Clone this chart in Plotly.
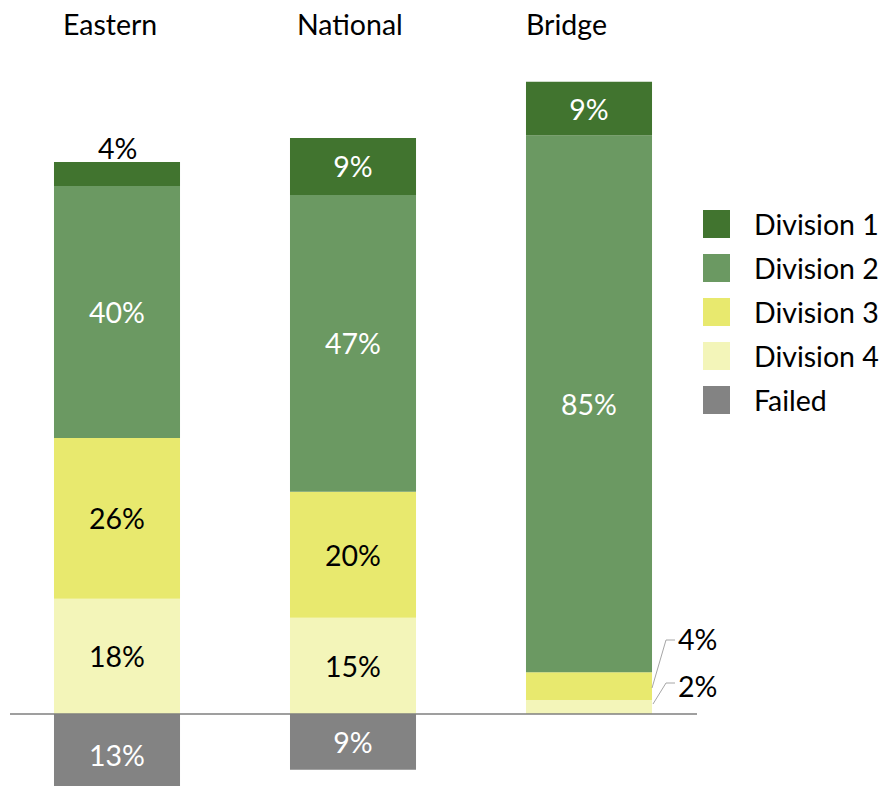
import plotly.graph_objects as go

# ---- data ----
schools = ["Eastern", "National", "Bridge"]
division1 = [3.8, 9.0, 8.5]
division2 = [39.8, 46.9, 84.8]
division3 = [25.4, 19.9, 4.4]
division4 = [18.2, 15.2, 2.2]
failed = [-13.0, -8.8, None]

labels_div1 = ["4%", "9%", "9%"]
labels_div2 = ["40%", "47%", "85%"]
labels_div3 = ["26%", "20%", "4%"]
labels_div4 = ["18%", "15%", "2%"]
labels_failed = ["13%", "9%", ""]

series_names = ["Division 1", "Division 2", "Division 3", "Division 4", "Failed"]
colors = {"Division 1": "#41742f", "Division 2": "#6b9962", "Division 3": "#e8e96e",
          "Division 4": "#f3f5b9", "Failed": "#838383"}

FONT = "Lato, 'Open Sans', 'Liberation Sans', sans-serif"
FS = 28.5

W, H = 881, 786
L, R = 10, 697  # plot area pixel extents
XR = [-0.4534, 2.4576]
YR = [-11.37, 112.8]

def px_x(p):  # p: reference image pixel
    return XR[0] + (p - L) / (R - L) * (XR[1] - XR[0])

def px_y(p):
    return YR[1] - p / H * (YR[1] - YR[0])

x = [0, 1, 2]
bw = 0.534

def inside_text(labels, hide):
    return [("" if i in hide else t) for i, t in enumerate(labels)]

fig = go.Figure()
traces = [
    ("Division 4", division4, inside_text(labels_div4, {2}), "black"),
    ("Division 3", division3, inside_text(labels_div3, {2}), "black"),
    ("Division 2", division2, inside_text(labels_div2, set()), "white"),
    ("Division 1", division1, inside_text(labels_div1, {0}), "white"),
    ("Failed", failed, labels_failed, "white"),
]
for name, vals, txt, tc in traces:
    fig.add_trace(go.Bar(
        x=x, y=vals, name=name, width=bw,
        marker=dict(color=colors[name], line=dict(width=0)),
        text=txt, textposition="inside", insidetextanchor="middle",
        textangle=0, constraintext="none",
        textfont=dict(family=FONT, size=FS, color=tc),
        showlegend=False, hoverinfo="skip",
    ))

shapes = []
# baseline
shapes.append(dict(type="line", xref="x", yref="y", x0=XR[0], x1=XR[1], y0=0, y1=0,
                   line=dict(color="#7f7f7f", width=1.5), layer="above"))
# leader lines for Bridge small segments
for (sx, sy), (ex, ey), (hx, hy) in [
    ((652, 688), (666, 640), (675, 640)),
    ((653, 704), (666, 683), (675, 683)),
]:
    shapes.append(dict(type="path",
                       path=f"M {px_x(sx)},{px_y(sy)} L {px_x(ex)},{px_y(ey)} L {px_x(hx)},{px_y(hy)}",
                       xref="x", yref="y", line=dict(color="#a6a6a6", width=1)))

annotations = []
# category labels
for i, (name, shift) in enumerate(zip(schools, [-7, -3, -23])):
    annotations.append(dict(x=i, y=px_y(24), xref="x", yref="y", text=name, showarrow=False,
                            xshift=shift, font=dict(family=FONT, size=FS, color="black"),
                            xanchor="center", yanchor="middle"))
# outside labels
annotations.append(dict(x=0, y=px_y(148), xref="x", yref="y", text=labels_div1[0], showarrow=False,
                        font=dict(family=FONT, size=FS, color="black"), yanchor="middle"))
annotations.append(dict(x=px_x(676), y=px_y(639), xref="x", yref="y", text=labels_div3[2], showarrow=False,
                        font=dict(family=FONT, size=FS, color="black"), xanchor="left", yanchor="middle"))
annotations.append(dict(x=px_x(676), y=px_y(686), xref="x", yref="y", text=labels_div4[2], showarrow=False,
                        font=dict(family=FONT, size=FS, color="black"), xanchor="left", yanchor="middle"))

# legend (drawn manually)
def paper_x(p):
    return (p - L) / (R - L)

def paper_y(p):
    return 1 - p / H

for k, name in enumerate(series_names):
    cy = 224 + 44 * k
    shapes.append(dict(type="rect", xref="paper", yref="paper",
                       x0=paper_x(703), x1=paper_x(730), y0=paper_y(cy - 14), y1=paper_y(cy + 14),
                       fillcolor=colors[name], line=dict(width=0)))
    annotations.append(dict(x=paper_x(752), y=paper_y(cy), xref="paper", yref="paper", text=name,
                            showarrow=False, xanchor="left", yanchor="middle",
                            font=dict(family=FONT, size=FS, color="black")))

fig.update_layout(
    width=W, height=H,
    margin=dict(l=L, r=W - R, t=0, b=0),
    barmode="relative",
    plot_bgcolor="white", paper_bgcolor="white",
    xaxis=dict(range=XR, visible=False, fixedrange=True),
    yaxis=dict(range=YR, visible=False, zeroline=False, fixedrange=True),
    shapes=shapes, annotations=annotations,
    showlegend=False,
)

fig.write_html("out.html",
               config={"displayModeBar": False},
               post_script="document.body.style.margin='0';document.body.style.overflow='hidden';")
